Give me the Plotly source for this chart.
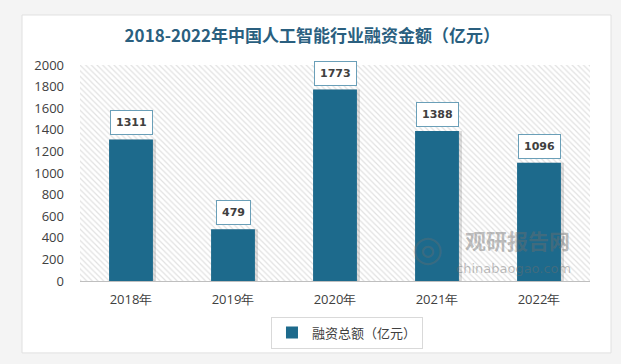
import plotly.graph_objects as go

categories = ["2018年", "2019年", "2020年", "2021年", "2022年"]
values = [1311, 479, 1773, 1388, 1096]
y_ticks = [0, 200, 400, 600, 800, 1000, 1200, 1400, 1600, 1800, 2000]
series_name = "融资总额（亿元）"
title_text = "2018-2022年中国人工智能行业融资金额（亿元）"

BAR = "#1d6a8c"
TXT = "#404040"
FONT = "Noto Sans CJK SC"

fig = go.Figure()

# hatched plot-area background
fig.add_trace(go.Bar(
    x=[categories[2]], y=[y_ticks[-1]], width=[len(categories)],
    marker=dict(color="white", line=dict(width=0),
                pattern=dict(shape="\\", fgcolor="#c4c4c4", bgcolor="white",
                             size=4, solidity=0.3)),
    showlegend=False, hoverinfo="skip"))

# soft shadow
fig.add_trace(go.Bar(
    x=categories, y=values, width=0.45, offset=-0.205,
    marker=dict(color="rgba(0,0,0,0.13)", line=dict(width=0)),
    showlegend=False, hoverinfo="skip"))

fig.add_trace(go.Bar(
    x=categories, y=values, name=series_name, width=0.43,
    marker=dict(color=BAR, line=dict(width=0))))

for c, v in zip(categories, values):
    fig.add_annotation(
        x=c, y=v, xref="x", yref="y", text="<b>%d</b>" % v, showarrow=False,
        yanchor="bottom", yshift=4,
        font=dict(family="DejaVu Sans", size=11, color=TXT),
        bgcolor="white", bordercolor="#6a9fb8", borderwidth=1, borderpad=5)

# watermark
fig.add_annotation(x=0.857, y=0.19, xref="paper", yref="paper",
                   xanchor="center", yanchor="middle",
                   text="<b>观研报告网</b>", showarrow=False,
                   font=dict(family=FONT, size=21, color="rgba(110,110,110,0.45)"))
fig.add_annotation(x=0.85, y=0.058, xref="paper", yref="paper",
                   xanchor="center", yanchor="middle",
                   text="chinabaogao.com", showarrow=False,
                   font=dict(family="DejaVu Sans", size=13, color="rgba(110,110,110,0.45)"))
fig.add_annotation(x=0.682, y=0.15, xref="paper", yref="paper",
                   xanchor="center", yanchor="middle",
                   text="◎", showarrow=False,
                   font=dict(family="DejaVu Sans", size=36, color="rgba(110,110,110,0.35)"))

# white card
fig.add_shape(type="rect", xref="paper", yref="paper",
              x0=-0.1137, x1=1.0412, y0=-0.333, y1=1.2315,
              fillcolor="white", line=dict(color="#e0e0e0", width=1), layer="below")

fig.update_layout(
    width=621, height=364,
    margin=dict(l=80, r=31, t=65, b=83),
    paper_bgcolor="#f4f4f4", plot_bgcolor="white",
    barmode="overlay",
    title=dict(text="<b>" + title_text + "</b>", x=0.503, xanchor="center",
               y=0.9, yref="container", yanchor="middle",
               font=dict(family=FONT, size=17, color="#2a5f7f")),
    font=dict(family=FONT, size=13, color=TXT),
    xaxis=dict(type="category", categoryorder="array", categoryarray=categories,
               range=[-0.5, 4.5], showgrid=False, showline=True, linecolor="#bfbfbf",
               ticks="", tickfont=dict(family="Open Sans", size=13, color=TXT),
               ticklabelstandoff=6),
    yaxis=dict(range=[0, 2000], tickvals=y_ticks, showgrid=False, zeroline=False,
               showline=False, ticks="",
               tickfont=dict(family="Open Sans", size=13, color=TXT),
               ticklabelstandoff=15),
    legend=dict(orientation="h", x=0.5235, xanchor="center", y=-0.165, yanchor="top",
                bordercolor="#d9d9d9", borderwidth=1, bgcolor="white",
                font=dict(family=FONT, size=13, color=TXT)),
    showlegend=True,
)

fig.write_html("out.html", config={"displayModeBar": False},
               post_script="document.body.style.margin='0';document.body.style.overflow='hidden';")
